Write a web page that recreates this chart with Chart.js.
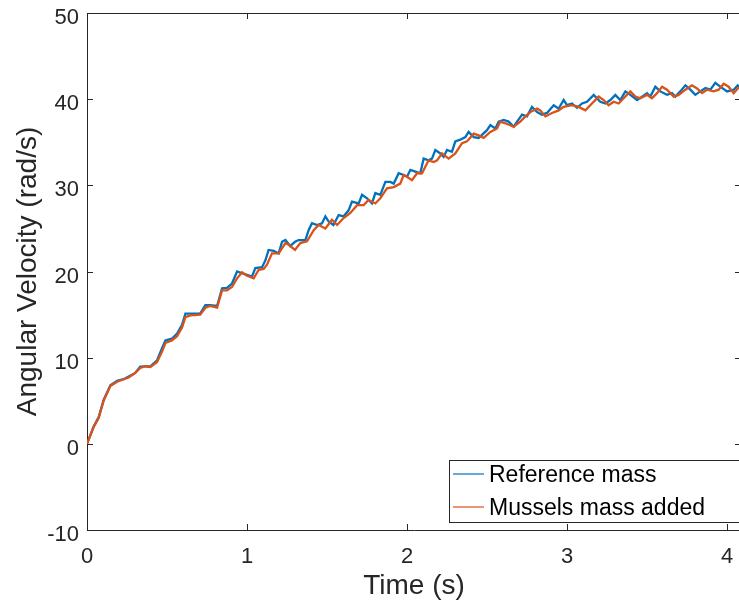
<!DOCTYPE html>
<html>
<head>
<meta charset="utf-8">
<script src="https://cdn.jsdelivr.net/npm/chart.js@4.4.1/dist/chart.umd.min.js"></script>
<style>
html, body { margin: 0; padding: 0; overflow: hidden; background: #fff; }
#wrap { width: 760px; height: 603px; }
</style>
</head>
<body>
<div id="wrap"><canvas id="chart-omega" width="760" height="603"></canvas></div>
<script>
// time (s) and angular velocity (rad/s)
var timeRef = [0, 0.042, 0.073, 0.104, 0.146, 0.188, 0.229, 0.26, 0.30, 0.333, 0.365, 0.396, 0.438, 0.469, 0.49, 0.53, 0.563, 0.594, 0.615, 0.646, 0.708, 0.74, 0.77, 0.813, 0.844, 0.875, 0.906, 0.938, 0.969, 1.0,
  1.031, 1.052, 1.094, 1.115, 1.135, 1.167, 1.198, 1.219, 1.24, 1.27, 1.30, 1.323, 1.365, 1.385, 1.406, 1.438, 1.469, 1.49, 1.51, 1.54, 1.573, 1.604, 1.635, 1.656, 1.698, 1.719, 1.75, 1.781, 1.802, 1.833, 1.865, 1.896, 1.917, 1.948, 1.979, 2.0,
  2.021, 2.052, 2.083, 2.104, 2.135, 2.156, 2.177, 2.208, 2.229, 2.25, 2.281, 2.302, 2.333, 2.365, 2.385, 2.417, 2.448, 2.5, 2.521, 2.552, 2.573, 2.604, 2.635, 2.667, 2.688, 2.719, 2.75, 2.781, 2.813, 2.844, 2.875, 2.917, 2.948, 2.979, 3.0,
  3.031, 3.063, 3.094, 3.125, 3.167, 3.208, 3.24, 3.271, 3.302, 3.333, 3.365, 3.396, 3.438, 3.469, 3.5, 3.521, 3.552, 3.583, 3.625, 3.656, 3.677, 3.708, 3.74, 3.771, 3.802, 3.833, 3.865, 3.896, 3.927, 3.958, 4.0, 4.042, 4.067, 4.09];
var velRef = [0, 2.0, 3.1, 5.1, 6.8, 7.3, 7.5, 7.8, 8.2, 8.95, 9.0, 9.0, 9.7, 11.1, 12.0, 12.2, 12.8, 13.8, 15.1, 15.1, 15.15, 16.1, 16.1, 16.0, 18.05, 18.1, 18.6, 20.0, 19.8, 19.6,
  19.4, 20.4, 20.5, 21.3, 22.5, 22.4, 22.1, 23.45, 23.65, 22.95, 23.45, 23.65, 23.65, 24.8, 25.6, 25.4, 25.6, 26.4, 25.8, 25.4, 26.55, 26.4, 27.1, 28.1, 27.9, 28.9, 28.5, 27.9, 29.1, 28.9, 30.4, 30.4, 30.2, 31.4, 31.2, 31.0,
  31.8, 31.6, 31.4, 33.1, 32.9, 33.1, 34.1, 33.7, 33.3, 34.1, 33.9, 35.1, 35.3, 35.6, 36.2, 35.6, 35.5, 36.4, 37.0, 36.6, 37.4, 37.6, 37.4, 36.8, 37.4, 38.2, 38.0, 39.1, 38.5, 38.2, 38.4, 39.3, 38.9, 39.9, 39.3,
  39.5, 39.0, 39.5, 39.7, 40.5, 39.7, 39.5, 39.9, 40.5, 39.9, 40.9, 40.5, 39.9, 40.3, 40.7, 40.3, 41.45, 40.9, 40.5, 40.7, 40.3, 40.9, 41.6, 41.1, 40.5, 40.9, 41.3, 41.1, 41.9, 41.45, 40.9, 41.1, 41.6, 41.2];

var timeMus = [0, 0.042, 0.073, 0.104, 0.146, 0.188, 0.229, 0.26, 0.30, 0.333, 0.365, 0.396, 0.438, 0.469, 0.49, 0.53, 0.563, 0.594, 0.615, 0.646, 0.708, 0.74, 0.77, 0.813, 0.844, 0.875, 0.906, 0.938, 0.969, 1.0,
  1.042, 1.073, 1.104, 1.125, 1.156, 1.198, 1.24, 1.26, 1.30, 1.333, 1.375, 1.417, 1.448, 1.49, 1.531, 1.563, 1.604, 1.646, 1.688, 1.729, 1.76, 1.802, 1.833, 1.875, 1.917, 1.958, 1.979, 2.0,
  2.031, 2.063, 2.094, 2.135, 2.167, 2.188, 2.219, 2.26, 2.302, 2.344, 2.375, 2.417, 2.448, 2.479, 2.521, 2.563, 2.583, 2.615, 2.667, 2.708, 2.74, 2.771, 2.813, 2.833, 2.865, 2.906, 2.948, 2.979, 3.0,
  3.031, 3.073, 3.115, 3.156, 3.198, 3.229, 3.26, 3.292, 3.323, 3.354, 3.396, 3.427, 3.458, 3.5, 3.531, 3.563, 3.594, 3.625, 3.667, 3.698, 3.74, 3.781, 3.813, 3.844, 3.875, 3.917, 3.948, 3.979, 4.01, 4.042, 4.067, 4.09];
var velMus = [0, 2.0, 3.0, 5.0, 6.7, 7.2, 7.5, 7.7, 8.2, 8.8, 9.0, 8.9, 9.5, 10.7, 11.7, 12.0, 12.5, 13.5, 14.7, 14.9, 15.0, 15.8, 16.0, 15.8, 17.8, 17.8, 18.2, 19.2, 19.9, 19.5,
  19.2, 20.2, 20.3, 20.8, 22.1, 22.1, 23.3, 23.1, 22.5, 23.3, 23.5, 24.8, 25.4, 25.0, 26.0, 25.4, 26.2, 26.8, 27.7, 27.7, 28.3, 27.9, 28.5, 29.65, 29.8, 30.2, 31.2, 31.0,
  30.6, 31.4, 31.4, 32.9, 32.7, 32.9, 33.7, 33.1, 33.7, 34.9, 35.1, 36.0, 35.8, 35.5, 36.2, 36.6, 37.4, 37.2, 36.8, 37.4, 38.0, 38.5, 38.9, 38.7, 38.0, 38.4, 38.7, 39.1, 39.2,
  39.3, 39.1, 38.7, 39.5, 40.3, 39.9, 39.3, 39.7, 39.5, 40.1, 40.9, 40.3, 40.1, 40.5, 40.1, 40.7, 41.45, 41.1, 40.3, 40.5, 41.1, 41.6, 41.25, 40.7, 41.1, 40.9, 41.1, 41.8, 41.45, 40.7, 41.25, 41.4];

var xTicks = [0, 1, 2, 3, 4];
var yTicks = [-10, 0, 10, 20, 30, 40, 50];
var seriesNames = ['Reference mass', 'Mussels mass added'];
var seriesColors = ['#0072BD', '#D95319'];

var FONT = "'Liberation Sans', Arial, Helvetica, sans-serif";
var INK = '#262626';

function pts(t, v) {
    return t.map(function (x, i) { return { x: x, y: v[i] }; });
}

// MATLAB look: box on, ticks pointing inward, legend with a frame
var matlabBox = {
    id: 'matlabBox',
    afterDraw: function (chart) {
        var ctx = chart.ctx, a = chart.chartArea;
        var xs = chart.scales.x, ys = chart.scales.y;
        ctx.save();
        ctx.strokeStyle = INK;
        ctx.lineWidth = 1;
        ctx.beginPath();
        ctx.moveTo(a.left, a.top + 0.5); ctx.lineTo(a.right, a.top + 0.5);
        ctx.moveTo(a.right - 0.5, a.top); ctx.lineTo(a.right - 0.5, a.bottom);
        xTicks.forEach(function (v) {
            var p = Math.round(xs.getPixelForValue(v)) + 0.5;
            ctx.moveTo(p, a.bottom); ctx.lineTo(p, a.bottom - 6);
            ctx.moveTo(p, a.top); ctx.lineTo(p, a.top + 6);
        });
        yTicks.forEach(function (v) {
            var p = Math.round(ys.getPixelForValue(v)) + 0.5;
            ctx.moveTo(a.left, p); ctx.lineTo(a.left + 6, p);
            ctx.moveTo(a.right, p); ctx.lineTo(a.right - 6, p);
        });
        ctx.stroke();

        // legend
        var bx = 449.5, by = 460.5, bw = 320, bh = 62;
        ctx.fillStyle = '#fff';
        ctx.fillRect(bx, by, bw, bh);
        ctx.strokeRect(bx, by, bw, bh);
        ctx.font = '23px ' + FONT;
        ctx.textBaseline = 'middle';
        chart.data.datasets.forEach(function (ds, i) {
            var ly = 474 + i * 33;
            ctx.strokeStyle = ds.borderColor;
            ctx.lineWidth = 1.2;
            ctx.beginPath();
            ctx.moveTo(453, ly); ctx.lineTo(484, ly);
            ctx.stroke();
            ctx.fillStyle = '#000';
            ctx.fillText(ds.label, 489, ly + 2);
        });
        ctx.restore();
    }
};

var config = {
    type: 'line',
    data: {
        datasets: [{
            label: seriesNames[0],
            data: pts(timeRef, velRef),
            borderColor: seriesColors[0],
            borderWidth: 2.3,
            pointRadius: 0,
            tension: 0,
            order: 1
        }, {
            label: seriesNames[1],
            data: pts(timeMus, velMus),
            borderColor: seriesColors[1],
            borderWidth: 2.3,
            pointRadius: 0,
            tension: 0,
            order: 0
        }]
    },
    options: {
        responsive: false,
        animation: false,
        layout: { padding: { top: 13, right: 19, left: 0, bottom: 0 } },
        plugins: {
            legend: { display: false },
            tooltip: { enabled: false }
        },
        scales: {
            x: {
                type: 'linear',
                min: 0,
                max: 4.0875,
                afterBuildTicks: function (s) { s.ticks = xTicks.map(function (v) { return { value: v }; }); },
                afterFit: function (s) { s.height = 73; s.paddingLeft = 0; s.paddingRight = 0; },
                grid: { display: false, drawTicks: false },
                border: { color: INK, width: 1 },
                ticks: { color: INK, font: { family: FONT, size: 22 }, padding: 14, maxRotation: 0 },
                title: { display: true, text: 'Time (s)', color: INK, font: { family: FONT, size: 28 }, padding: { top: 0, bottom: 0 } }
            },
            y: {
                min: -10,
                max: 50,
                afterBuildTicks: function (s) { s.ticks = yTicks.map(function (v) { return { value: v }; }); },
                afterFit: function (s) { s.width = 87; s.paddingTop = 0; s.paddingBottom = 0; },
                grid: { display: false, drawTicks: false },
                border: { color: INK, width: 1 },
                ticks: { color: INK, font: { family: FONT, size: 22 }, padding: 8, labelOffset: 5 },
                title: { display: true, text: 'Angular Velocity (rad/s)', color: INK, font: { family: FONT, size: 28 }, padding: { top: 11, bottom: 0 } }
            }
        }
    },
    plugins: [matlabBox]
};

var ctx = document.getElementById('chart-omega').getContext('2d');
new Chart(ctx, config);
</script>
</body>
</html>
